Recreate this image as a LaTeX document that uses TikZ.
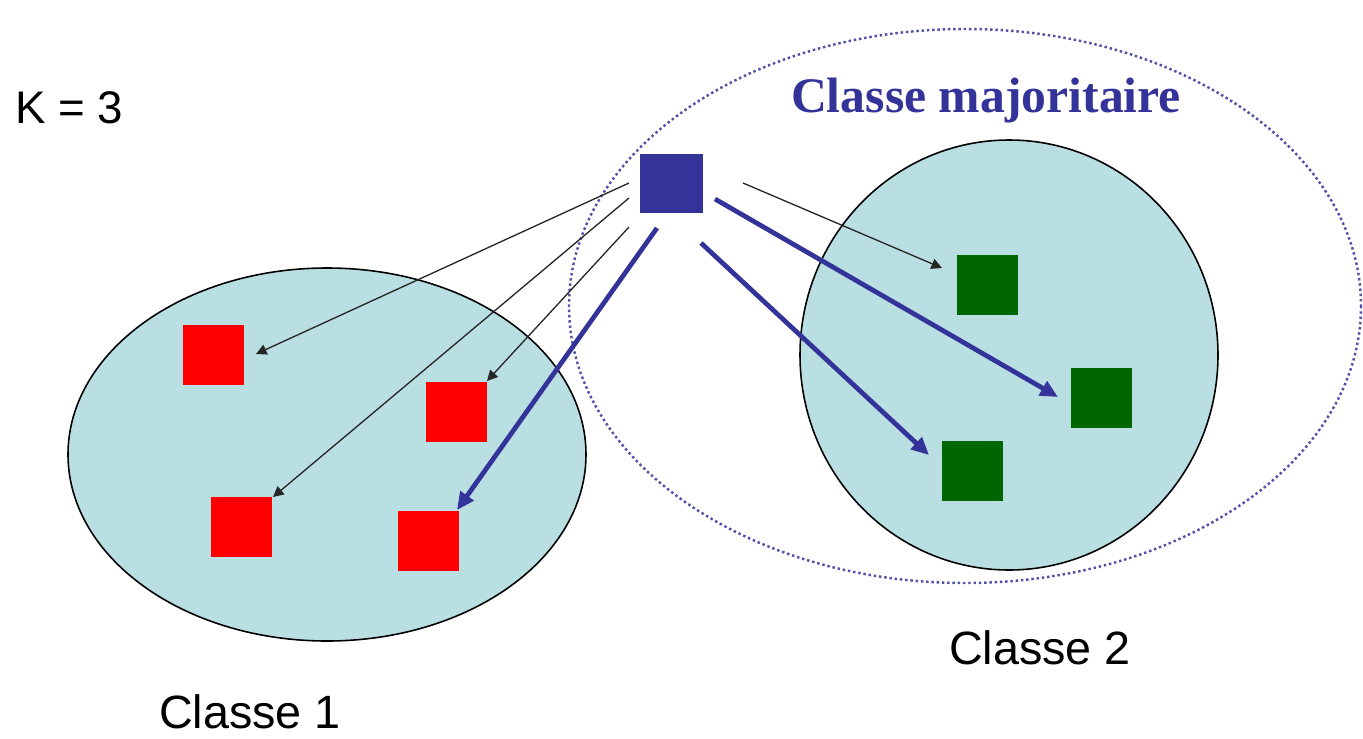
\documentclass[tikz,border=0pt]{standalone}
\usepackage{fontspec}
\setmainfont{Liberation Sans}
\newfontfamily\serifbold{Liberation Serif}[BoldFont={* Bold}]
\usetikzlibrary{arrows.meta}
\definecolor{cellfill}{HTML}{B9DFE2}
\definecolor{navy}{HTML}{333399}
\definecolor{darkgreen}{HTML}{006600}
\definecolor{pointred}{HTML}{FF0000}
\newlength{\pxu}
\setlength{\pxu}{0.02cm}
\tikzset{
  pt/.style={draw=none, inner sep=0pt, outer sep=0pt},
  redpt/.style={pt, fill=pointred, minimum width=61\pxu, minimum height=60\pxu},
  greenpt/.style={pt, fill=darkgreen, minimum width=61\pxu, minimum height=60\pxu},
  querypt/.style={pt, fill=navy, minimum width=63\pxu, minimum height=59\pxu},
  thinlink/.style={draw=black!85, line width=0.75pt, -{Triangle[length=6pt,width=6pt]}},
  voterlink/.style={draw=navy, line width=2.7pt, -{Triangle[length=10pt,width=9pt]}},
  cluster/.style={draw=black, line width=0.9pt, fill=cellfill},
  neighbourhood/.style={draw=navy!85, line width=1.4pt, dash pattern=on 1.4pt off 1.6pt},
  lbl/.style={inner sep=0pt, anchor=base},
}
\begin{document}
\begin{tikzpicture}[x=0.02cm, y=-0.02cm]
\useasboundingbox (0,0) rectangle (1363,738);

% class regions
\path[cluster] (327,454.5) ellipse [x radius=259, y radius=186.5];
\path[cluster] (1009,355) ellipse [x radius=209, y radius=215];

% neighbourhood of the query point
\path[neighbourhood] (965,306) ellipse [x radius=396, y radius=277];

% class 1 points
\node[redpt] (r1) at (213.5,355) {};
\node[redpt] (r2) at (456.5,412) {};
\node[redpt] (r3) at (241.5,526.5) {};
\node[redpt] (r4) at (428.5,541) {};

% class 2 points
\node[greenpt] (g1) at (987.5,284.5) {};
\node[greenpt] (g2) at (1101.5,398) {};
\node[greenpt] (g3) at (972.5,470.5) {};

% query point
\node[querypt] (q) at (671.5,183.5) {};

% start and end points of the distance arrows
\coordinate (s1) at (629,183);
\coordinate (s2) at (629,198);
\coordinate (s3) at (629,227);
\coordinate (s4) at (657,228);
\coordinate (s5) at (743,183);
\coordinate (s6) at (715,199);
\coordinate (s7) at (701,243);
\coordinate (e1) at (256,354);
\coordinate (e2) at (273,497);
\coordinate (e3) at (487,381);
\coordinate (e4) at (457,510);
\coordinate (e5) at (942,268);
\coordinate (e6) at (1058,397);
\coordinate (e7) at (929,455);

\draw[thinlink] (s1) -- (e1);
\draw[thinlink] (s2) -- (e2);
\draw[thinlink] (s3) -- (e3);
\draw[thinlink] (s5) -- (e5);
\draw[voterlink] (s4) -- (e4);
\draw[voterlink] (s6) -- (e6);
\draw[voterlink] (s7) -- (e7);

% labels
\node[lbl, anchor=base west, font=\fontsize{26}{30}\selectfont] (k) at (15,123) {K = 3};
\node[lbl, text=navy, font=\serifbold\bfseries\fontsize{28.3}{32}\selectfont] (maj) at (986,112) {Classe majoritaire};
\node[lbl, font=\fontsize{26.6}{30}\selectfont] (c2) at (1040,664) {Classe 2};
\node[lbl, font=\fontsize{26.6}{30}\selectfont] (c1) at (250,728) {Classe 1};
\end{tikzpicture}
\end{document}
